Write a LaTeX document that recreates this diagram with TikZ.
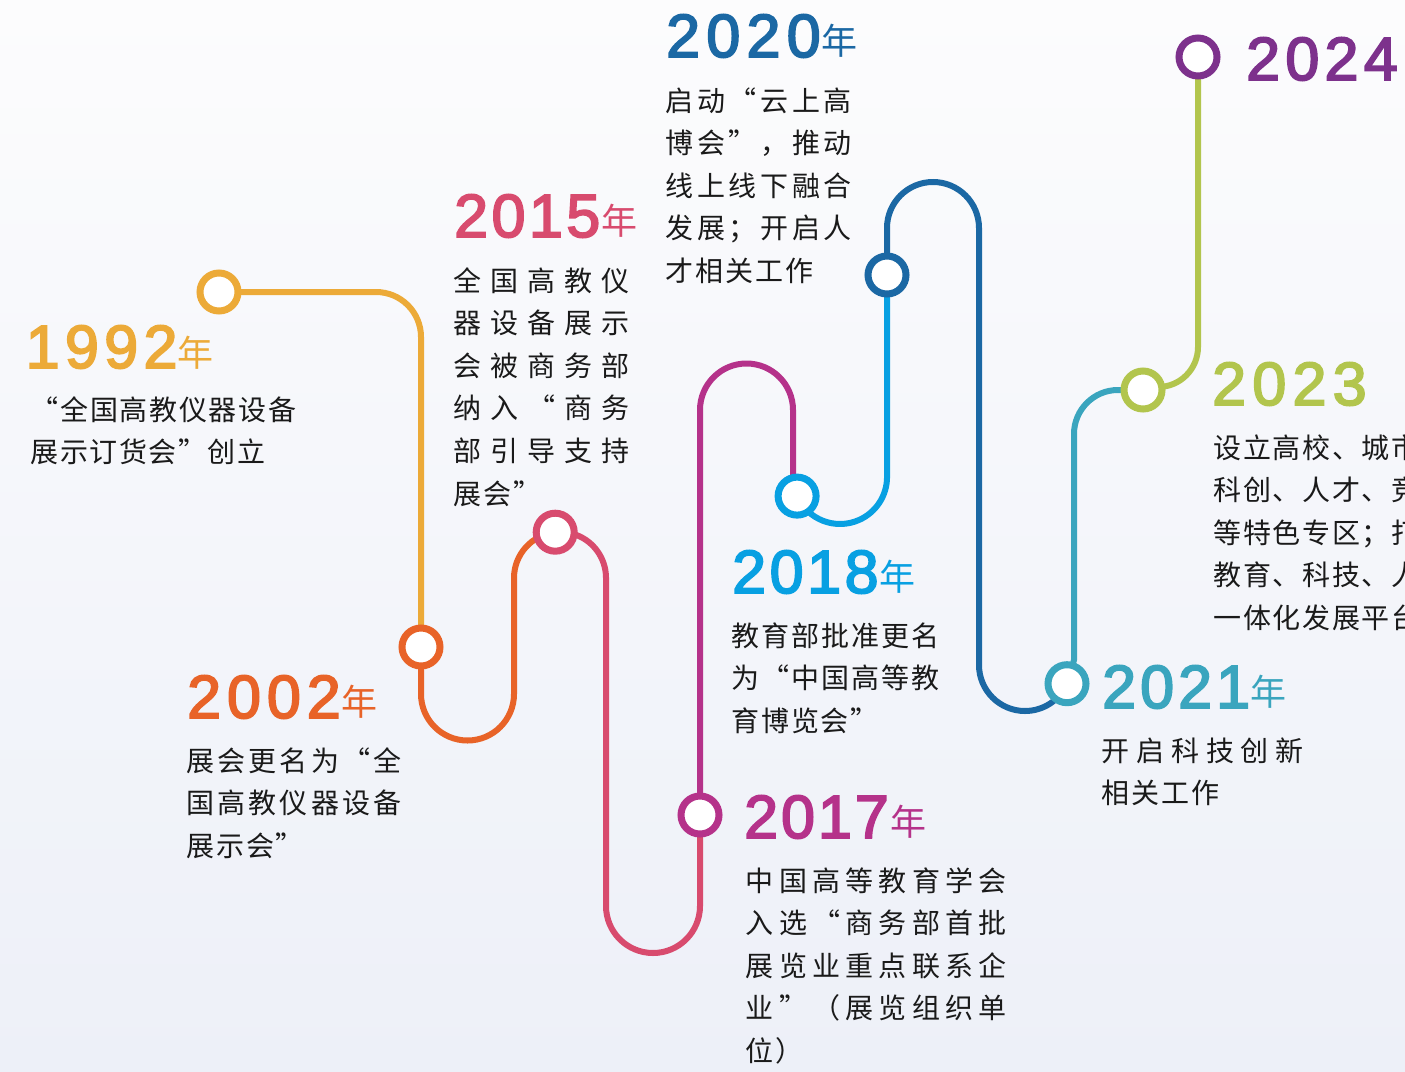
\documentclass[tikz,border=0pt]{standalone}
\usepackage{fontspec}
\newfontfamily\cjk{Noto Sans CJK SC}
\newfontfamily\yrfont[FakeBold=3]{Liberation Sans}
\pgfdeclarelayer{bg}
\pgfdeclarelayer{lines}
\pgfsetlayers{bg,lines,main}
\makeatletter
\newcommand\sp@run[1]{\@tfor\sp@ch:=#1\do{\makebox[\sp@pitch][l]{\sp@ch}}}
\newcommand\spaced[2]{\edef\sp@list{#2}\def\sp@pitch{#1}\expandafter\sp@run\expandafter{\sp@list}}
\makeatother
\definecolor{c92}{RGB}{236,170,56}
\definecolor{c02}{RGB}{232,99,40}
\definecolor{c15}{RGB}{216,75,110}
\definecolor{c17}{RGB}{181,50,138}
\definecolor{c18}{RGB}{8,160,226}
\definecolor{c20}{RGB}{27,104,164}
\definecolor{c21}{RGB}{58,165,190}
\definecolor{c23}{RGB}{178,197,77}
\definecolor{c24}{RGB}{125,49,140}
\definecolor{txt}{RGB}{26,26,26}
\definecolor{bgtop}{RGB}{252,252,253}
\definecolor{bgbot}{RGB}{237,240,248}
\tikzset{
  ring/.style={circle, draw=#1, line width=7pt, fill=white, minimum size=38pt, inner sep=0pt},
  seg/.style={draw=#1, line width=6pt},
  body/.style={inner sep=0pt, anchor=base west, text=txt, font=\cjk\fontsize{28}{28}\selectfont},
  yr/.style={inner sep=0pt, anchor=base west, text=#1, font=\yrfont\fontsize{61}{61}\selectfont},
  nian/.style={inner sep=0pt, anchor=base west, text=#1, font=\cjk\fontsize{36}{36}\selectfont},
}
% each line given as pitch/text; justified lines are wider, last lines natural
\newcommand\txtblock[4]{\foreach \p/\tx [count=\ii] in {#4}{\node[body] (#1-\ii) at (#2,{#3+(\ii-1)*42.6}) {\spaced{\p pt}{\tx}};}}
\begin{document}
\begin{tikzpicture}[x=1pt,y=-1pt]
\useasboundingbox (0,0) rectangle (1405,1071);
\begin{pgfonlayer}{bg}
\shade[top color=bgtop,bottom color=bgbot] (0,0) rectangle (1405,1071);
\end{pgfonlayer}
\clip (0,0) rectangle (1405,1071);
% milestone rings
\node[ring=c92] (k92) at (219,292) {};
\node[ring=c02] (k02) at (421,647) {};
\node[ring=c15] (k15) at (555.2,532.2) {};
\node[ring=c17] (k17) at (700,815) {};
\node[ring=c18] (k18) at (797.1,496.1) {};
\node[ring=c20] (k20) at (887,275) {};
\node[ring=c21] (k21) at (1067,683.7) {};
\node[ring=c23] (k23) at (1143,390) {};
\node[ring=c24] (k24) at (1198,57) {};
% connectors
\begin{pgfonlayer}{lines}
\draw[seg=c92] (k92.center) -- (376,292) arc[start angle=-90,end angle=0,radius=45] -- (k02.center);
\draw[seg=c02] (k02.center) -- (421,694) arc[start angle=180,end angle=0,radius=46.5] -- (514,578) arc[start angle=180,end angle=264,radius=46] -- (k15.center);
\draw[seg=c15] (k15.center) arc[start angle=264,end angle=360,radius=46] -- (606,906) arc[start angle=180,end angle=0,radius=47] -- (k17.center);
\draw[seg=c17] (k17.center) -- (700,410) arc[start angle=180,end angle=360,radius=46.5] -- (793,477) -- (k18.center);
\draw[seg=c18] (k18.center) arc[start angle=156,end angle=0,radius=47] -- (k20.center);
\draw[seg=c20] (k20.center) -- (887,228) arc[start angle=180,end angle=360,radius=46] -- (979,665) arc[start angle=180,end angle=24,radius=46] -- (k21.center);
\draw[seg=c21] (k21.center) -- (1074,660) -- (1074,434) arc[start angle=180,end angle=270,radius=44] -- (k23.center);
\draw[seg=c23] (k23.center) -- (1158,387) arc[start angle=90,end angle=0,radius=40] -- (k24.center);
\end{pgfonlayer}
% years (last digit set at natural width)
\node[yr=c92] (y92) at (25.5,368) {\spaced{39.3pt}{199}2};
\node[nian=c92] (n92) at (177.5,366.5) {年};
\node[yr=c02] (y02) at (187,718) {\spaced{39.9pt}{200}2};
\node[nian=c02] (n02) at (341.5,715.5) {年};
\node[yr=c15] (y15) at (454,237) {\spaced{37.4pt}{201}5};
\node[nian=c15] (n15) at (601.5,234.5) {年};
\node[yr=c20] (y20) at (666,57) {\spaced{40.2pt}{202}0};
\node[nian=c20] (n20) at (821,54.5) {年};
\node[yr=c18] (y18) at (732,593) {\spaced{37.5pt}{201}8};
\node[nian=c18] (n18) at (879,590.5) {年};
\node[yr=c17] (y17) at (744,838) {\spaced{36.9pt}{201}7};
\node[nian=c17] (n17) at (890.5,835.5) {年};
\node[yr=c21] (y21) at (1102,708) {\spaced{38pt}{202}1};
\node[nian=c21] (n21) at (1250,705.5) {年};
\node[yr=c23] (y23) at (1212,405) {\spaced{40.2pt}{202}3};
\node[yr=c24] (y24) at (1246,80) {\spaced{39.2pt}{202}4};
% descriptions
\txtblock{t92}{30.5}{420}{29.7/“全国高教仪器设备,29.5/展示订货会”创立}
\txtblock{t02}{186.5}{771}{31.1/展会更名为“全,31.1/国高教仪器设备,29.7/展示会”}
\txtblock{t15}{453.5}{291}{36.9/全国高教仪,36.9/器设备展示,36.9/会被商务部,36.9/纳入“商务,36.9/部引导支持,29.7/展会”}
\txtblock{t20}{665.5}{111}{31.6/启动“云上高,31.6/博会”，推动,31.6/线上线下融合,31.6/发展；开启人,29.9/才相关工作}
\txtblock{t18}{731.5}{646}{30.0/教育部批准更名,30.0/为“中国高等教,29.7/育博览会”}
\txtblock{t17}{745.5}{891}{33.3/中国高等教育学会,33.3/入选“商务部首批,33.3/展览业重点联系企,33.3/业”（展览组织单,29.7/位）}
\txtblock{t21}{1101.5}{761}{34.8/开启科技创新,29.9/相关工作}
\txtblock{t23}{1213.5}{458}{29.6/设立高校、城市,29.6/科创、人才、竞,29.6/等特色专区；打,29.6/教育、科技、人,29.6/一体化发展平台}
\end{tikzpicture}
\end{document}
